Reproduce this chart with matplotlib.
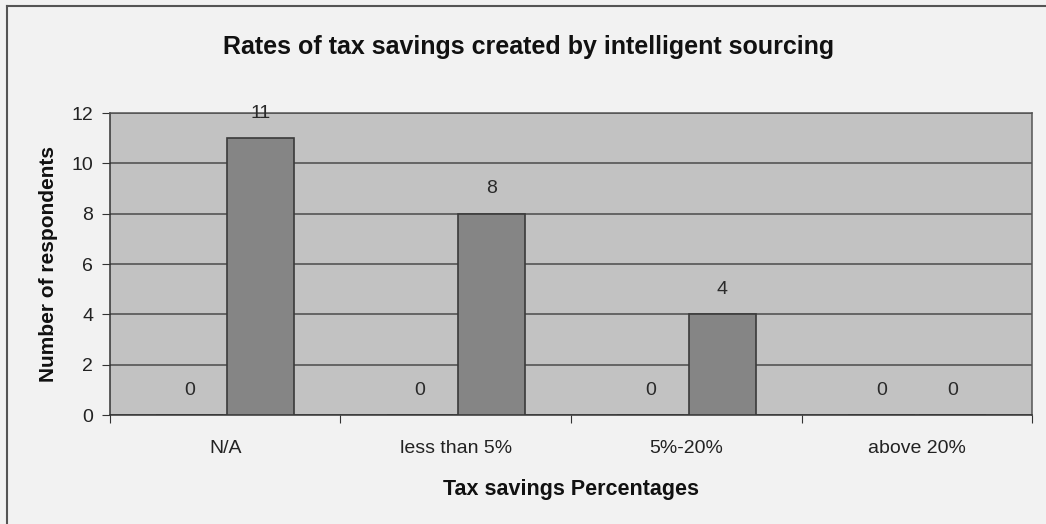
import numpy as np
import matplotlib
matplotlib.use("Agg")
import matplotlib.pyplot as plt
from matplotlib.lines import Line2D

plt.rcParams['font.family'] = ['Liberation Sans', 'DejaVu Sans']

categories = ["N/A", "less than 5%", "5%-20%", "above 20%"]
series_a = [0, 0, 0, 0]
series_b = [11, 8, 4, 0]
y_ticks = [0, 2, 4, 6, 8, 10, 12]

fig = plt.figure(figsize=(10.46, 5.24), dpi=100)
fig.patch.set_facecolor("#f2f2f2")
ax = fig.add_axes([0.105, 0.208, 0.882, 0.576])
ax.set_facecolor("#c2c2c2")

x = np.arange(len(categories))
w = 0.29
off = 0.155
bars_a = ax.bar(x - off, series_a, w, color="#8a8a8a", edgecolor="#3a3a3a", linewidth=1.2, zorder=3)
bars_b = ax.bar(x + off, series_b, w, color="#858585", edgecolor="#3a3a3a", linewidth=1.2, zorder=3)

for bars, vals in ((bars_a, series_a), (bars_b, series_b)):
    for b, v in zip(bars, vals):
        ax.annotate(str(v), (b.get_x() + b.get_width() / 2, v), xytext=(0, 25),
                    textcoords="offset pixels", ha="center", va="center",
                    fontsize=14, color="#2a2a2a", zorder=4)

ax.set_xlim(-0.5, len(categories) - 0.5)
ax.set_ylim(0, 12)
ax.set_yticks(y_ticks)
ax.set_yticklabels([str(t) for t in y_ticks], fontsize=14, color="#222222")
ax.yaxis.grid(True, color="#4a4a4a", linewidth=1.1, zorder=1)

# category boundaries get the tick marks, labels sit in the middle
ax.set_xticks(np.arange(len(categories) + 1) - 0.5)
ax.set_xticklabels([])
ax.set_xticks(x, minor=True)
ax.set_xticklabels(categories, minor=True, fontsize=14, color="#222222")
ax.tick_params(axis="x", which="minor", length=0, pad=18)
ax.tick_params(axis="x", which="major", length=6, color="#333333")
ax.tick_params(axis="y", length=6, color="#333333", pad=6)

for s in ax.spines.values():
    s.set_color("#555555")
    s.set_linewidth(1.1)
ax.spines["left"].set_color("#333333")
ax.spines["bottom"].set_color("#333333")

ax.set_xlabel("Tax savings Percentages", fontsize=15.5, fontweight="bold", labelpad=16, color="#111111")
ax.set_ylabel("Number of respondents", fontsize=15, fontweight="bold", labelpad=10, color="#111111")
fig.text(0.505, 0.91, "Rates of tax savings created by intelligent sourcing",
         ha="center", va="center", fontsize=18, fontweight="bold", color="#111111")

# outer chart frame: top and left edges only
fig.add_artist(Line2D([0.007, 1.0], [0.989, 0.989], transform=fig.transFigure, color="#555555", linewidth=1.5))
fig.add_artist(Line2D([0.007, 0.007], [0.0, 0.989], transform=fig.transFigure, color="#555555", linewidth=1.5))

fig.savefig("out.png", dpi=100, facecolor=fig.get_facecolor())
